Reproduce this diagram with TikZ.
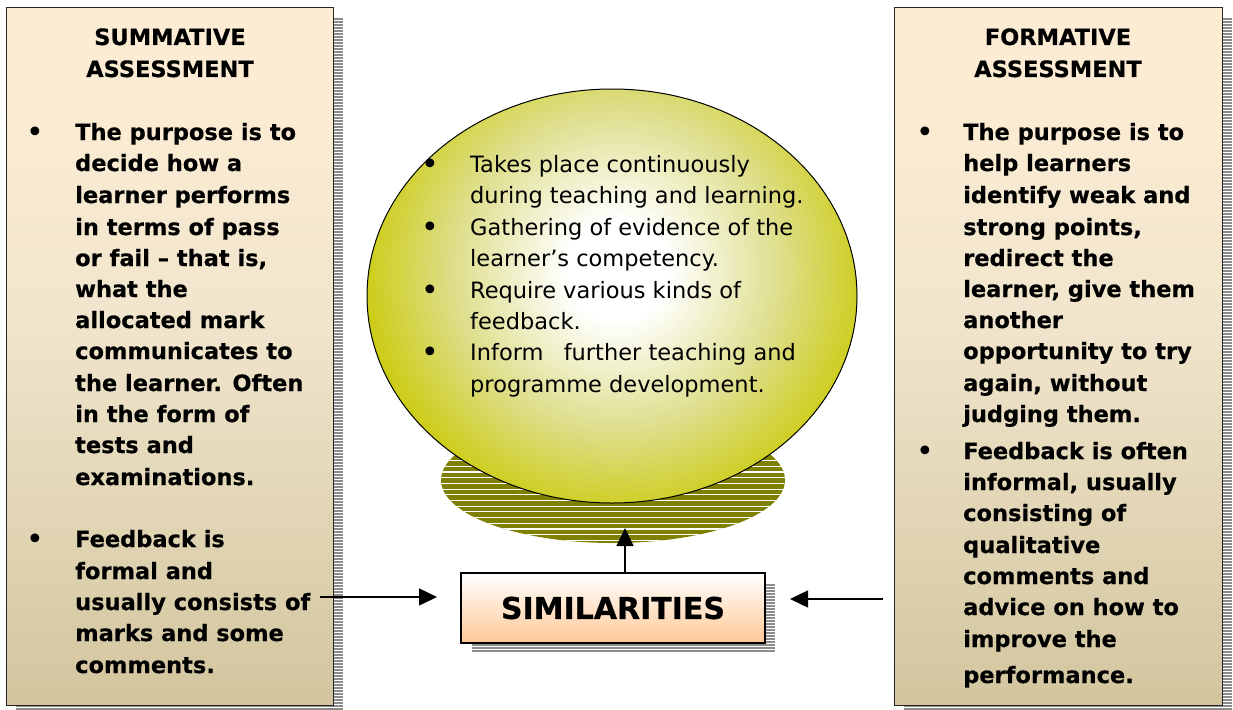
\documentclass[tikz,border=0pt]{standalone}
\usepackage{fontspec}
\setmainfont{DejaVu Sans}[BoldFeatures={FakeBold=0.5}]
\usetikzlibrary{arrows.meta}
\definecolor{boxtop}{RGB}{252,236,212}
\definecolor{boxmid}{RGB}{240,229,204}
\definecolor{boxbot}{RGB}{210,197,158}
\definecolor{yel}{RGB}{204,204,20}
\definecolor{yelmid}{RGB}{222,222,140}
\definecolor{olivec}{RGB}{128,128,0}
\definecolor{peach}{RGB}{255,200,150}
\definecolor{shadowc}{RGB}{140,140,140}
\pgfdeclareverticalshading{boxsh}{100bp}{color(0bp)=(boxbot); color(25bp)=(boxbot); color(52bp)=(boxmid); color(68bp)=(boxtop); color(100bp)=(boxtop)}
\pgfdeclareradialshading{circsh}{\pgfpoint{0bp}{0bp}}{color(0bp)=(white); color(5bp)=(white); color(16bp)=(yelmid); color(25bp)=(yel); color(50bp)=(yel)}
\tikzset{
  assbox/.style={draw=black!85, line width=1.4pt, shading=boxsh, anchor=north west, inner sep=0},
  simbox/.style={draw=black, line width=1.4pt, top color=white, bottom color=peach, inner sep=0,
     font=\bfseries\fontsize{30}{36}\selectfont},
  btxt/.style={anchor=base west, inner sep=0, font=\bfseries\fontsize{22.5}{27}\selectfont},
  ttl/.style={anchor=base, inner sep=0, font=\bfseries\fontsize{22.5}{27}\selectfont},
  ctxt/.style={anchor=base west, inner sep=0, font=\fontsize{22.5}{27}\selectfont},
  bul/.style={anchor=base, inner sep=0, font=\fontsize{30}{36}\selectfont},
  conn/.style={line width=1.4pt, -{Triangle[length=18pt,width=17pt]}},
}
\newcommand{\hatchshadow}[4]{%
  \fill[shadowc] (#1,#2) rectangle (#3,#4);
  \begin{scope}
    \clip (#1,#2) rectangle (#3,#4);
    \foreach \hy in {#2,\the\numexpr#2+3\relax,...,#4} {\draw[white, line width=0.9pt] (#1,\hy) -- (#3,\hy);}
  \end{scope}}
\begin{document}
\begin{tikzpicture}[x=1pt,y=-1pt]
\useasboundingbox (0,0) rectangle (1233,709);
\fill[white] (0,0) rectangle (1233,709);
% shadows
\hatchshadow{16}{17}{343}{715}
\hatchshadow{904}{17}{1232}{715}
% boxes
\node[assbox, minimum width=327pt, minimum height=698pt] (sum) at (6,7) {};
\node[assbox, minimum width=328pt, minimum height=698pt] (form) at (894,7) {};
% titles
\node[ttl] (st1) at (170,45) {SUMMATIVE};
\node[ttl] (st2) at (170,77) {ASSESSMENT};
\node[ttl] (ft1) at (1058,45) {FORMATIVE};
\node[ttl] (ft2) at (1058,77) {ASSESSMENT};
% left list
\node[bul] (lb1) at (35,142) {•};
\node[bul] (lb2) at (35,549) {•};
\foreach \yy/\txt [count=\i] in {140/{The purpose is to},171/{decide how a},203/{learner performs},235/{in terms of pass},266/{or fail – that is,},297/{what the},328/{allocated mark},359/{communicates to},391/{the learner. Often},422/{in the form of},453/{tests and},485/{examinations.},547/{Feedback is},579/{formal and},610/{usually consists of},641/{marks and some},673/{comments.}}
  {\node[btxt] (sl\i) at (75,\yy) {\txt};}
% right list
\node[bul] (rb1) at (925,142) {•};
\node[bul] (rb2) at (925,461) {•};
\foreach \yy/\txt [count=\i] in {140/{The purpose is to},171/{help learners},203/{identify weak and},235/{strong points,},266/{redirect the},297/{learner, give them},328/{another},359/{opportunity to try},391/{again, without},422/{judging them.},459/{Feedback is often},490/{informal, usually},521/{consisting of},553/{qualitative},584/{comments and},615/{advice on how to},647/{improve the},683/{performance.}}
  {\node[btxt] (fl\i) at (963,\yy) {\txt};}
% base ellipse (hatched)
\fill[olivec] (613,480) ellipse [x radius=172, y radius=63];
\begin{scope}
  \clip (613,480) ellipse [x radius=172, y radius=63];
  \foreach \hy in {415,420.7,...,545} {\draw[white, line width=1.1pt] (430,\hy) -- (800,\hy);}
\end{scope}
\coordinate (base) at (625,528);
% circle
\begin{scope}
  \clip (612,296) ellipse [x radius=245, y radius=207];
  \shade[shading=circsh] (362,20) rectangle (872,520);
\end{scope}
\draw[line width=1pt] (612,296) ellipse [x radius=245, y radius=207];
\node[bul] (cb1) at (430,174) {•};
\node[bul] (cb2) at (430,237) {•};
\node[bul] (cb3) at (430,300) {•};
\node[bul] (cb4) at (430,362) {•};
\foreach \yy/\txt [count=\i] in {172/{Takes place continuously},203/{during teaching and learning.},235/{Gathering of evidence of the},266/{learner’s competency.},298/{Require various kinds of},329/{feedback.},360/{Inform\hspace{0.9em}further teaching and},392/{programme development.}}
  {\node[ctxt] (cl\i) at (470,\yy) {\txt};}
% similarities
\hatchshadow{472}{583}{775}{653}
\node[simbox, minimum width=304pt, minimum height=70pt] (sim) at (613,608) {SIMILARITIES};
% connectors
\coordinate (lstart) at (320,597);
\coordinate (lend) at (437,597);
\coordinate (rstart) at (883,599);
\coordinate (rend) at (790,599);
\draw[conn] (lstart) -- (lend);
\draw[conn] (rstart) -- (rend);
\draw[conn] (sim.north -| base) -- (base);
\end{tikzpicture}
\end{document}
